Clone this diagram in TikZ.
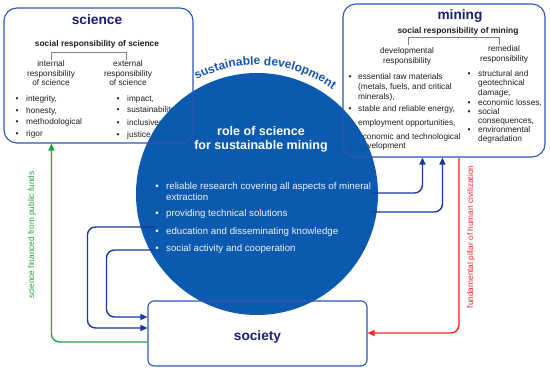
\documentclass[tikz,border=0pt]{standalone}
\usepackage{fontspec}
\setmainfont{Liberation Sans}
\usetikzlibrary{arrows.meta,decorations.text,calc}
\definecolor{navy}{RGB}{28,30,112}
\definecolor{boxblue}{RGB}{45,85,180}
\definecolor{circblue}{RGB}{12,90,175}
\definecolor{arcblue}{RGB}{25,85,175}
\definecolor{connblue}{RGB}{25,55,160}
\definecolor{grn}{RGB}{30,165,60}
\definecolor{rd}{RGB}{255,35,35}
\definecolor{txt}{RGB}{30,30,30}
\definecolor{brk}{RGB}{130,130,130}
\definecolor{ctxt}{RGB}{240,244,250}
\begin{document}
\begin{tikzpicture}[x=1pt,y=-1pt,
  boxline/.style={draw=boxblue, line width=1.1pt, rounded corners=13pt, inner sep=0, fill=none},
  ttl/.style={font=\fontsize{13.7}{15}\selectfont\bfseries, text=navy, inner sep=0, anchor=mid},
  subt/.style={font=\fontsize{8.4}{10}\selectfont\bfseries, text=txt, inner sep=0, anchor=mid},
  btxt/.style={font=\fontsize{8.3}{10}\selectfont, text=txt, inner sep=0, anchor=mid},
  ltxt/.style={btxt, anchor=mid west},
  bul/.style={btxt},
  ctitle/.style={font=\fontsize{12.5}{14}\selectfont\bfseries, text=white, inner sep=0, anchor=mid},
  ctxtl/.style={font=\fontsize{9.7}{11}\selectfont, text=ctxt, inner sep=0, anchor=mid west},
  cbul/.style={font=\fontsize{9.7}{11}\selectfont, text=ctxt, inner sep=0, anchor=mid},
  brack/.style={draw=brk, line width=0.7pt},
  conn/.style={draw=connblue, line width=1.4pt, rounded corners=8pt, -{Triangle[length=7pt,width=6pt]}},
  gconn/.style={conn, draw=grn, -{Triangle[length=7pt,width=6pt,fill=grn]}},
  rconn/.style={conn, draw=rd, -{Triangle[length=7pt,width=6pt,fill=rd]}},
  lab/.style={font=\fontsize{8.3}{10}\selectfont, inner sep=0, rotate=90}
]
\fill[white] (0,0) rectangle (550,371);
\useasboundingbox (0,0) rectangle (550,371);

% ---------- science box content
\node[ttl] (scit) at (97,22) {science};
\node[subt] (scis) at (97,44) {social responsibility of science};
\draw[brack] (51,60) |- (126,52) -- (126,60);
\node[btxt] (scii1) at (51,64) {internal};
\node[btxt] (scii2) at (51,74) {responsibility};
\node[btxt] (scii3) at (51,83) {of science};
\node[btxt] (scie1) at (128,64) {external};
\node[btxt] (scie2) at (128,74) {responsibility};
\node[btxt] (scie3) at (128,83) {of science};
\node[bul] (scib1) at (17,99) {•};
\node[bul] (scib2) at (17,111) {•};
\node[bul] (scib3) at (17,122) {•};
\node[bul] (scib4) at (17,134) {•};
\node[ltxt] (scil1) at (26,99) {integrity,};
\node[ltxt] (scil2) at (26,111) {honesty,};
\node[ltxt] (scil3) at (26,122) {methodological};
\node[ltxt] (scil4) at (26,134) {rigor};
\node[bul] (scic1) at (118,99) {•};
\node[bul] (scic2) at (118,110) {•};
\node[bul] (scic3) at (118,123) {•};
\node[bul] (scic4) at (118,135) {•};
\node[ltxt] (scir1) at (127,99) {impact,};
\node[ltxt] (scir2) at (127,110) {sustainability,};
\node[ltxt] (scir3) at (127,123) {inclusiveness,};
\node[ltxt] (scir4) at (127,135) {justice};

% ---------- mining box content
\node[ttl] (mint) at (460,17) {mining};
\node[subt] (mins) at (458,31) {social responsibility of mining};
\draw[brack] (408,45) |- (499,37) -- (499,45);
\node[btxt] (mind1) at (407,51) {developmental};
\node[btxt] (mind2) at (407,61) {responsibility};
\node[btxt] (minr1) at (504,49) {remedial};
\node[btxt] (minr2) at (504,59) {responsibility};
\node[bul] (minb1) at (350,77) {•};
\node[bul] (minb2) at (350,109) {•};
\node[bul] (minb3) at (350,123) {•};
\node[bul] (minb4) at (350,137) {•};
\node[ltxt] (minl1) at (358,77) {essential raw materials};
\node[ltxt] (minl2) at (358,87) {(metals, fuels, and critical};
\node[ltxt] (minl3) at (358,97) {minerals),};
\node[ltxt] (minl4) at (358,109) {stable and reliable energy,};
\node[ltxt] (minl5) at (358,123) {employment opportunities,};
\node[ltxt] (minl6) at (358,137) {economic and technological};
\node[ltxt] (minl7) at (358,146) {development};
\node[bul] (minc1) at (469,74) {•};
\node[bul] (minc2) at (469,103) {•};
\node[bul] (minc3) at (469,112) {•};
\node[bul] (minc4) at (469,130) {•};
\node[ltxt] (minr3) at (478,74) {structural and};
\node[ltxt] (minr4) at (478,83) {geotechnical};
\node[ltxt] (minr5) at (478,93) {damage,};
\node[ltxt] (minr6) at (478,103) {economic losses,};
\node[ltxt] (minr7) at (478,112) {social};
\node[ltxt] (minr8) at (478,121) {consequences,};
\node[ltxt] (minr9) at (478,130) {environmental};
\node[ltxt] (minr10) at (478,139) {degradation};

% ---------- circle
\node[circle, fill=circblue, minimum size=242pt, inner sep=0] (circ) at (257,194) {};
\node[ctitle] (ct1) at (261,133) {role of science};
\node[ctitle] (ct2) at (261,147) {for sustainable mining};
\node[cbul] (cb1) at (157,187) {•};
\node[cbul] (cb2) at (157,214) {•};
\node[cbul] (cb3) at (157,232) {•};
\node[cbul] (cb4) at (157,249) {•};
\node[ctxtl] (cl1t) at (166,187) {reliable research covering all aspects of mineral};
\node[ctxtl] (cl2t) at (166,197.5) {extraction};
\node[ctxtl] (cl3t) at (166,214) {providing technical solutions};
\node[ctxtl] (cl4t) at (166,232) {education and disseminating knowledge};
\node[ctxtl] (cl5t) at (166,249) {social activity and cooperation};

% ---------- arc text
\path[decorate, decoration={text along path, text align=center,
  text={|\fontsize{12}{14}\selectfont\bfseries\color{arcblue}|sustainable development}}]
  ($(circ.center)+(-145:129)$) arc[start angle=-145, end angle=-27, radius=129];

% ---------- boxes (borders over circle)
\node[boxline, minimum width=189pt, minimum height=135pt] (sci) at (98.5,75.5) {};
\node[boxline, minimum width=202pt, minimum height=153pt] (min) at (444,80.5) {};
\node[boxline, rounded corners=6pt, minimum width=219pt, minimum height=65pt] (soc) at (257.5,333.5) {};
\node[ttl] (soct) at (257.5,338) {society};

% ---------- connectors
\coordinate (cr1) at (373,193);
\coordinate (cr2) at (373,212);
\coordinate (mb1) at ($(min.south west)+(80,0)$);
\coordinate (mb2) at ($(min.south west)+(100,0)$);
\draw[conn] (cr1) -| (mb1);
\draw[conn] (cr2) -| (mb2);

\coordinate (cl1) at (155,227);
\coordinate (cl2) at (155,250);
\coordinate (sw1) at ($(soc.west)+(0,-5.5)$);
\coordinate (sw2) at ($(soc.west)+(0,-16.5)$);
\draw[conn] (cl1) -| ([xshift=-60pt]sw1) -- (sw1);
\draw[conn] (cl2) -| ([xshift=-41pt]sw2) -- (sw2);

\coordinate (g0) at ($(soc.west)+(0,8.5)$);
\coordinate (sb) at ($(sci.south west)+(48,0)$);
\draw[gconn] (g0) -| (sb);

\coordinate (rt) at ($(min.south west)+(116.5,0)$);
\coordinate (re) at ($(soc.east)+(0,-0.5)$);
\draw[rconn] (rt) |- (re);

\node[lab, text=grn] (glab) at (32,235) {science financed from public funds};
\node[lab, text=rd] (rlab) at (471,237) {fundamental pillar of human civilization};
\end{tikzpicture}
\end{document}
